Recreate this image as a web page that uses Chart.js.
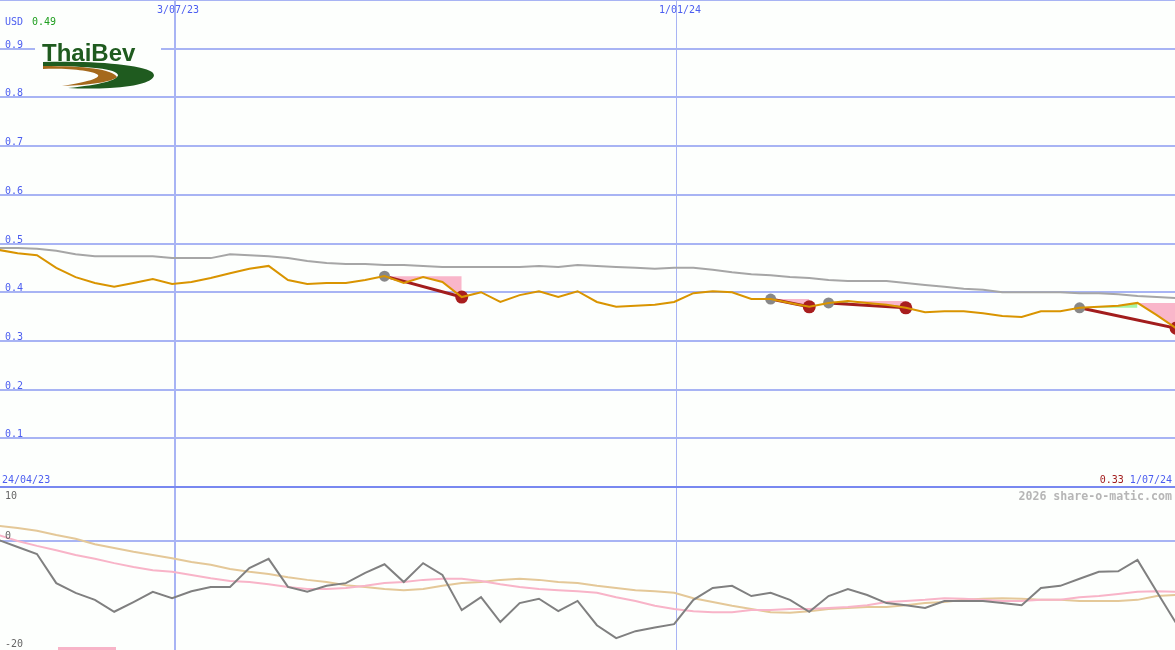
<!DOCTYPE html>
<html><head><meta charset="utf-8">
<script src="https://cdn.jsdelivr.net/npm/chart.js@4.4.1/dist/chart.umd.min.js"></script>
<style>html,body{margin:0;padding:0;background:#fdfffd;overflow:hidden}canvas{display:block}</style>
</head><body>
<canvas id="c" width="1175" height="650"></canvas>
<script>
// weekly samples, week 0 = 30/04/23 (x in days since then)
const price = [0.487,0.480,0.476,0.450,0.431,0.419,0.411,0.419,0.427,0.417,0.421,0.429,0.439,0.448,0.454,0.425,0.417,0.419,0.419,0.425,0.433,0.419,0.431,0.421,0.390,0.400,0.380,0.394,0.402,0.390,0.402,0.380,0.370,0.372,0.374,0.380,0.398,0.402,0.400,0.386,0.386,0.378,0.370,0.378,0.382,0.378,0.374,0.368,0.359,0.361,0.361,0.357,0.351,0.349,0.361,0.361,0.368,0.370,0.372,0.378,0.353,0.326];
const movingAvg = [0.491,0.491,0.489,0.485,0.478,0.474,0.474,0.474,0.474,0.470,0.470,0.470,0.478,0.476,0.474,0.470,0.464,0.460,0.458,0.458,0.456,0.456,0.454,0.452,0.452,0.452,0.452,0.452,0.454,0.452,0.456,0.454,0.452,0.450,0.448,0.450,0.450,0.446,0.441,0.437,0.435,0.431,0.429,0.425,0.423,0.423,0.423,0.419,0.415,0.411,0.407,0.405,0.400,0.400,0.400,0.400,0.398,0.398,0.396,0.392,0.390,0.388];
const oscGray = [0.2,-1.1,-2.4,-7.8,-9.6,-10.9,-13.1,-11.3,-9.4,-10.6,-9.3,-8.5,-8.5,-5.0,-3.3,-8.5,-9.4,-8.3,-7.8,-5.9,-4.3,-7.6,-4.1,-6.3,-12.8,-10.4,-15.0,-11.5,-10.7,-13.0,-11.1,-15.6,-18.0,-16.7,-16.0,-15.4,-10.9,-8.7,-8.3,-10.2,-9.6,-10.9,-13.1,-10.2,-8.9,-10.0,-11.5,-11.9,-12.4,-11.1,-11.1,-11.1,-11.5,-11.9,-8.7,-8.3,-7.0,-5.7,-5.6,-3.5,-9.4,-15.2];
const oscPink = [1.1,0,-0.9,-1.7,-2.6,-3.3,-4.1,-4.8,-5.4,-5.7,-6.3,-6.9,-7.4,-7.6,-8.0,-8.5,-8.9,-8.9,-8.7,-8.3,-7.8,-7.6,-7.2,-7.0,-7.0,-7.4,-8.0,-8.5,-8.9,-9.1,-9.3,-9.6,-10.4,-11.1,-12.0,-12.6,-13.0,-13.2,-13.2,-12.8,-12.8,-12.6,-12.6,-12.4,-12.2,-11.9,-11.3,-11.1,-10.9,-10.6,-10.7,-10.9,-11.1,-11.1,-10.9,-10.9,-10.4,-10.2,-9.8,-9.4,-9.3,-9.4];
const oscTan = [2.8,2.4,1.9,1.1,0.4,-0.6,-1.3,-2.0,-2.6,-3.2,-3.9,-4.4,-5.2,-5.7,-6.1,-6.7,-7.2,-7.6,-8.2,-8.5,-8.9,-9.1,-8.9,-8.3,-7.8,-7.6,-7.2,-7.0,-7.2,-7.6,-7.8,-8.3,-8.7,-9.1,-9.3,-9.6,-10.6,-11.3,-12.0,-12.6,-13.2,-13.3,-13.0,-12.6,-12.4,-12.2,-12.2,-11.9,-11.5,-11.3,-10.9,-10.7,-10.6,-10.7,-10.9,-10.9,-11.1,-11.1,-11.1,-10.9,-10.2,-10.0];
const buyWeeks = [20,40,43,56];
const sellWeeks = [24,42,47,61];
const dateTickDays = [64,246];
const dateTickLabels = ['3/07/23','1/01/24'];
const priceTicks = [0,0.1,0.2,0.3,0.4,0.5,0.6,0.7,0.8,0.9,1.0];
const priceTickLabels = ['','0.1','0.2','0.3','0.4','0.5','0.6','0.7','0.8','0.9',''];
const oscTicks = [10,0,-20];
const oscTickLabels = ['10','0','-20'];
const firstDateLabel = '24/04/23';
const lastDateLabel = '1/07/24';
const currency = 'USD';
const brand = 'ThaiBev';
const watermark = '2026 share-o-matic.com';

const BG = '#fdfffd', BLUE = '#4c5ef0', GRID = '#a8b4f4';
const MONO = '"DejaVu Sans Mono", monospace';
const xs = price.map((_, i) => i * 7);
const pts = arr => arr.map((v, i) => ({x: xs[i], y: v}));

const datasets = [];
datasets.push({data: pts(price), borderColor: '#d99400', borderWidth: 2, pointRadius: 0, order: 1, yAxisID: 'y'});
datasets.push({data: pts(movingAvg), borderColor: '#a6a6a6', borderWidth: 2, pointRadius: 0, order: 5, yAxisID: 'y'});
buyWeeks.forEach((b, t) => {
  const s = sellWeeks[t];
  let pk = b;
  for (let i = b; i <= s; i++) if (price[i] > price[pk]) pk = i;
  if (pk > b) datasets.push({data: pts(price).slice(b, pk + 1), fill: {value: price[b]}, backgroundColor: '#a4f5a4', borderWidth: 0, pointRadius: 0, order: 6, yAxisID: 'y'});
  datasets.push({data: pts(price).slice(pk, s + 1), fill: {value: price[pk]}, backgroundColor: '#f9b6ca', borderWidth: 0, pointRadius: 0, order: 6, yAxisID: 'y'});
  datasets.push({data: [{x: xs[b], y: price[b]}, {x: xs[s], y: price[s]}], borderColor: '#a21d1d', borderWidth: 3, pointRadius: 0, order: 3, yAxisID: 'y'});
});
datasets.push({data: buyWeeks.map(k => ({x: xs[k], y: price[k]})), showLine: false, pointRadius: 5.5, pointHoverRadius: 5.5, pointBackgroundColor: '#888888', pointBorderWidth: 0, order: 2, yAxisID: 'y'});
datasets.push({data: sellWeeks.map(k => ({x: xs[k], y: price[k]})), showLine: false, pointRadius: 6.5, pointHoverRadius: 6.5, pointBackgroundColor: '#a81e1e', pointBorderWidth: 0, order: 2, yAxisID: 'y'});
datasets.push({data: pts(oscTan), borderColor: '#e4c898', borderWidth: 2, pointRadius: 0, order: 9, yAxisID: 'y2'});
datasets.push({data: pts(oscPink), borderColor: '#f8b4c8', borderWidth: 2, pointRadius: 0, order: 8, yAxisID: 'y2'});
datasets.push({data: pts(oscGray), borderColor: '#808080', borderWidth: 2, pointRadius: 0, order: 7, yAxisID: 'y2'});

function drawLogo(ctx) {
  ctx.fillStyle = BG; ctx.fillRect(35, 39, 126, 54);
  ctx.fillStyle = '#1f5b1f';
  ctx.font = 'bold 24px "Liberation Sans", Arial, sans-serif';
  ctx.textAlign = 'left'; ctx.textBaseline = 'alphabetic';
  ctx.fillText(brand, 42, 61);
  ctx.beginPath();
  ctx.moveTo(43, 62);
  ctx.bezierCurveTo(90, 61, 140, 64, 152, 72);
  ctx.bezierCurveTo(158, 77, 150, 83, 130, 86);
  ctx.bezierCurveTo(110, 89, 85, 89, 68, 88);
  ctx.bezierCurveTo(100, 85, 118, 80, 118, 75);
  ctx.bezierCurveTo(117, 69, 90, 66, 43, 66);
  ctx.closePath(); ctx.fill();
  ctx.fillStyle = '#a5691c';
  ctx.beginPath();
  ctx.moveTo(43, 66);
  ctx.bezierCurveTo(85, 66, 112, 69, 117, 77);
  ctx.bezierCurveTo(112, 82, 90, 85, 62, 86);
  ctx.bezierCurveTo(88, 82, 100, 78, 98, 75);
  ctx.bezierCurveTo(94, 71, 70, 68, 43, 69);
  ctx.closePath(); ctx.fill();
}

const overlay = {
  id: 'overlay',
  beforeDraw(c) { const ctx = c.ctx; ctx.save(); ctx.fillStyle = BG; ctx.fillRect(0, 0, c.width, c.height); ctx.restore(); },
  afterDraw(c) {
    const ctx = c.ctx, X = c.scales.x, Y = c.scales.y, Y2 = c.scales.y2;
    ctx.save();
    drawLogo(ctx);
    ctx.font = '10px ' + MONO; ctx.textBaseline = 'alphabetic';
    ctx.textAlign = 'left'; ctx.fillStyle = BLUE;
    priceTicks.forEach((v, i) => { if (priceTickLabels[i]) ctx.fillText(priceTickLabels[i], 5, Math.round(Y.getPixelForValue(v)) - 1); });
    ctx.fillText(currency, 5, 25);
    ctx.fillStyle = '#1e9e1e'; ctx.fillText(price[0].toFixed(2), 32, 25);
    ctx.fillStyle = BLUE; ctx.fillText(firstDateLabel, 2, 483);
    ctx.textAlign = 'center';
    dateTickDays.forEach((d, i) => ctx.fillText(dateTickLabels[i], Math.round(X.getPixelForValue(d)) + 3, 13));
    ctx.textAlign = 'right';
    ctx.fillText(lastDateLabel, 1172, 483);
    const w = ctx.measureText(lastDateLabel + ' ').width;
    ctx.fillStyle = '#a21d1d'; ctx.fillText(price[price.length - 1].toFixed(2), 1172 - w, 483);
    ctx.textAlign = 'left'; ctx.fillStyle = '#666666';
    const top2 = Y.getPixelForValue(0);
    oscTicks.forEach((v, i) => { const p = Y2.getPixelForValue(v); ctx.fillText(oscTickLabels[i], 5, Math.max(p - 2, top2 + 12)); });
    ctx.font = 'bold 11.6px ' + MONO; ctx.fillStyle = '#b6b6b6'; ctx.textAlign = 'right';
    ctx.fillText(watermark, 1172, 500);
    ctx.fillStyle = '#f8b4c8'; ctx.fillRect(58, 647, 58, 3);
    ctx.restore();
  }
};

new Chart(document.getElementById('c'), {
  type: 'line',
  data: {datasets},
  options: {
    responsive: false, animation: false, devicePixelRatio: 1,
    layout: {padding: 0, autoPadding: false},
    plugins: {legend: {display: false}, tooltip: {enabled: false}},
    elements: {line: {tension: 0, fill: false}},
    scales: {
      x: {type: 'linear', min: 0.6, max: 426.6, ticks: {display: false}, border: {display: false},
          grid: {drawTicks: false, color: GRID, lineWidth: ctx => ctx.index === 0 ? 2 : 1},
          afterBuildTicks: s => { s.ticks = dateTickDays.map(v => ({value: v})); }},
      y: {type: 'linear', min: -0.3347, max: 1.0, ticks: {display: false}, border: {display: false},
          grid: {drawTicks: false, lineWidth: 2, color: ctx => ctx.tick && ctx.tick.value === 0 ? '#7888f0' : GRID},
          afterBuildTicks: s => { s.ticks = priceTicks.map(v => ({value: v})); }},
      y2: {type: 'linear', position: 'left', min: -20.185, max: 100.185, ticks: {display: false}, border: {display: false},
          grid: {drawTicks: false, lineWidth: 2, color: ctx => ctx.tick && ctx.tick.value === 0 ? GRID : 'rgba(0,0,0,0)'},
          afterBuildTicks: s => { s.ticks = oscTicks.map(v => ({value: v})); }}
    }
  },
  plugins: [overlay]
});
</script>
</body></html>
